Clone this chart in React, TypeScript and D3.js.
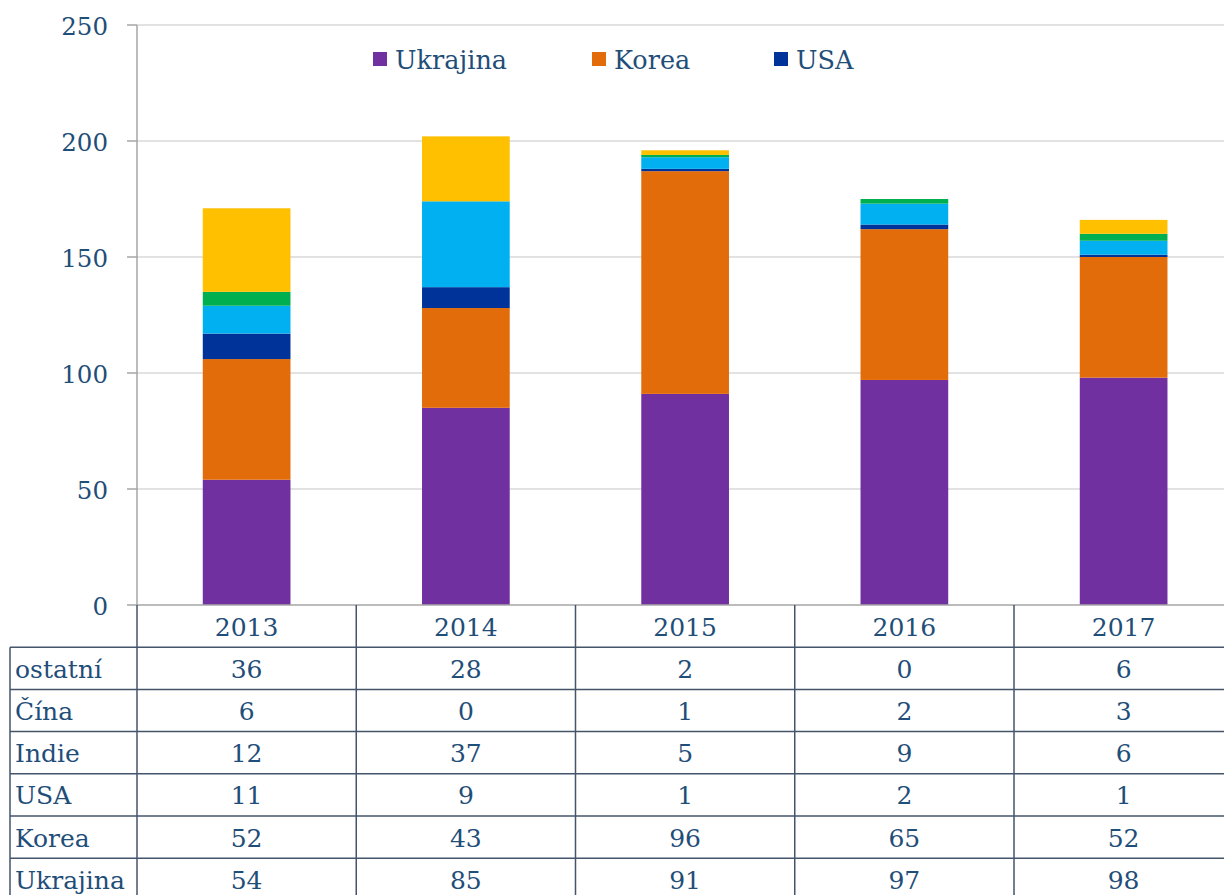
import React, { useEffect, useRef } from "react";
import * as d3 from "d3";

const years = ["2013", "2014", "2015", "2016", "2017"];
const seriesNames = ["Ukrajina", "Korea", "USA", "Indie", "Čína", "ostatní"];
const ukrajina = [54, 85, 91, 97, 98];
const korea = [52, 43, 96, 65, 52];
const usa = [11, 9, 1, 2, 1];
const indie = [12, 37, 5, 9, 6];
const cina = [6, 0, 1, 2, 3];
const ostatni = [36, 28, 2, 0, 6];
const colors = ["#7030A0", "#E36C0A", "#003399", "#00B0F0", "#00B050", "#FFC000"];
const yTicks = [0, 50, 100, 150, 200, 250];
const legendNames = ["Ukrajina", "Korea", "USA"];

const FONT = "'DejaVu Serif', Georgia, serif";
const TEXT = "#1F4E79";

export default function App() {
  const ref = useRef<SVGSVGElement>(null);

  useEffect(() => {
    document.body.style.margin = "0";
    const svg = d3.select(ref.current);
    svg.selectAll("*").remove();

    const values = [ukrajina, korea, usa, indie, cina, ostatni];
    const rows = years.map((yr, i) => {
      const o: any = { year: yr };
      seriesNames.forEach((s, k) => (o[s] = values[k][i]));
      return o;
    });
    const stacked = d3.stack().keys(seriesNames)(rows);

    const left = 137;
    const colW = 219.25;
    const x = d3.scaleBand().domain(years).range([left, left + colW * years.length]).padding(0);
    const y = d3.scaleLinear().domain([0, 250]).range([605, 25]);
    const barW = x.bandwidth() * 0.4;

    // gridlines
    svg.append("g")
      .selectAll("line")
      .data(yTicks.filter((t) => t > 0))
      .join("line")
      .attr("x1", left)
      .attr("x2", 1224)
      .attr("y1", (d) => y(d))
      .attr("y2", (d) => y(d))
      .attr("stroke", "#D9D9D9")
      .attr("stroke-width", 1.5);

    // bars
    svg.append("g")
      .selectAll("g")
      .data(stacked)
      .join("g")
      .attr("fill", (_d, i) => colors[i])
      .selectAll("rect")
      .data((d) => d)
      .join("rect")
      .attr("x", (d: any) => (x(d.data.year) as number) + (x.bandwidth() - barW) / 2)
      .attr("width", barW)
      .attr("y", (d) => y(d[1]))
      .attr("height", (d) => Math.max(0, y(d[0]) - y(d[1])));

    // y axis
    const ax = svg.append("g").attr("font-family", FONT);
    ax.append("line").attr("x1", left).attr("x2", left).attr("y1", y(250)).attr("y2", y(0))
      .attr("stroke", "#A6A6A6").attr("stroke-width", 1.5);
    ax.selectAll("line.tick").data(yTicks).join("line").attr("class", "tick")
      .attr("x1", 127).attr("x2", left).attr("y1", (d) => y(d)).attr("y2", (d) => y(d))
      .attr("stroke", "#A6A6A6").attr("stroke-width", 1.5);
    ax.selectAll("text").data(yTicks).join("text")
      .attr("x", 108).attr("y", (d) => y(d) + 1)
      .attr("text-anchor", "end").attr("dominant-baseline", "central")
      .attr("font-size", 24.5).attr("fill", TEXT)
      .text((d) => String(d));
    // baseline
    svg.append("line").attr("x1", left).attr("x2", 1224).attr("y1", y(0)).attr("y2", y(0))
      .attr("stroke", "#A6A6A6").attr("stroke-width", 1.5);

    // data table
    const tbl = svg.append("g").attr("font-family", FONT).attr("font-size", 25).attr("fill", TEXT);
    const headerTop = 605;
    const rowH = 42.2;
    const tableRows = [
      { name: "ostatní", vals: ostatni },
      { name: "Čína", vals: cina },
      { name: "Indie", vals: indie },
      { name: "USA", vals: usa },
      { name: "Korea", vals: korea },
      { name: "Ukrajina", vals: ukrajina },
    ];
    const lineCol = "#44546A";
    tbl.selectAll("text.yr").data(years).join("text").attr("class", "yr")
      .attr("x", (d) => (x(d) as number) + x.bandwidth() / 2)
      .attr("y", headerTop + rowH / 2 + 1)
      .attr("text-anchor", "middle").attr("dominant-baseline", "central")
      .text((d) => d);
    const bottom = headerTop + rowH * (tableRows.length + 1);
    years.concat(["end"]).forEach((_yr, i) => {
      const xx = left + i * colW;
      tbl.append("line").attr("x1", xx).attr("x2", xx).attr("y1", headerTop).attr("y2", bottom)
        .attr("stroke", lineCol).attr("stroke-width", 1.5);
    });
    tbl.append("line").attr("x1", 10).attr("x2", 10).attr("y1", headerTop + rowH).attr("y2", bottom)
      .attr("stroke", lineCol).attr("stroke-width", 1.5);
    for (let r = 1; r <= tableRows.length + 1; r++) {
      const yy = headerTop + r * rowH;
      tbl.append("line").attr("x1", 10).attr("x2", 1224).attr("y1", yy).attr("y2", yy)
        .attr("stroke", lineCol).attr("stroke-width", 1.5);
    }
    tableRows.forEach((row, r) => {
      const cy = headerTop + rowH * (r + 1) + rowH / 2 + 1;
      tbl.append("text").attr("x", 15).attr("y", cy).attr("dominant-baseline", "central").text(row.name);
      row.vals.forEach((v, i) => {
        tbl.append("text")
          .attr("x", (x(years[i]) as number) + x.bandwidth() / 2)
          .attr("y", cy).attr("text-anchor", "middle").attr("dominant-baseline", "central")
          .text(String(v));
      });
    });

    // legend
    const legX = [373, 592, 774];
    const lg = svg.append("g").attr("font-family", FONT).attr("font-size", 25.5);
    legendNames.forEach((n, i) => {
      const k = seriesNames.indexOf(n);
      lg.append("rect").attr("x", legX[i]).attr("y", 52).attr("width", 14).attr("height", 14).attr("fill", colors[k]);
      lg.append("text").attr("x", legX[i] + 22).attr("y", 60).attr("dominant-baseline", "central")
        .attr("fill", TEXT).text(n);
    });
  }, []);

  return (
    <svg ref={ref} width={1224} height={895}
      style={{ position: "absolute", left: 0, top: 0, background: "#fff", display: "block" }} />
  );
}
